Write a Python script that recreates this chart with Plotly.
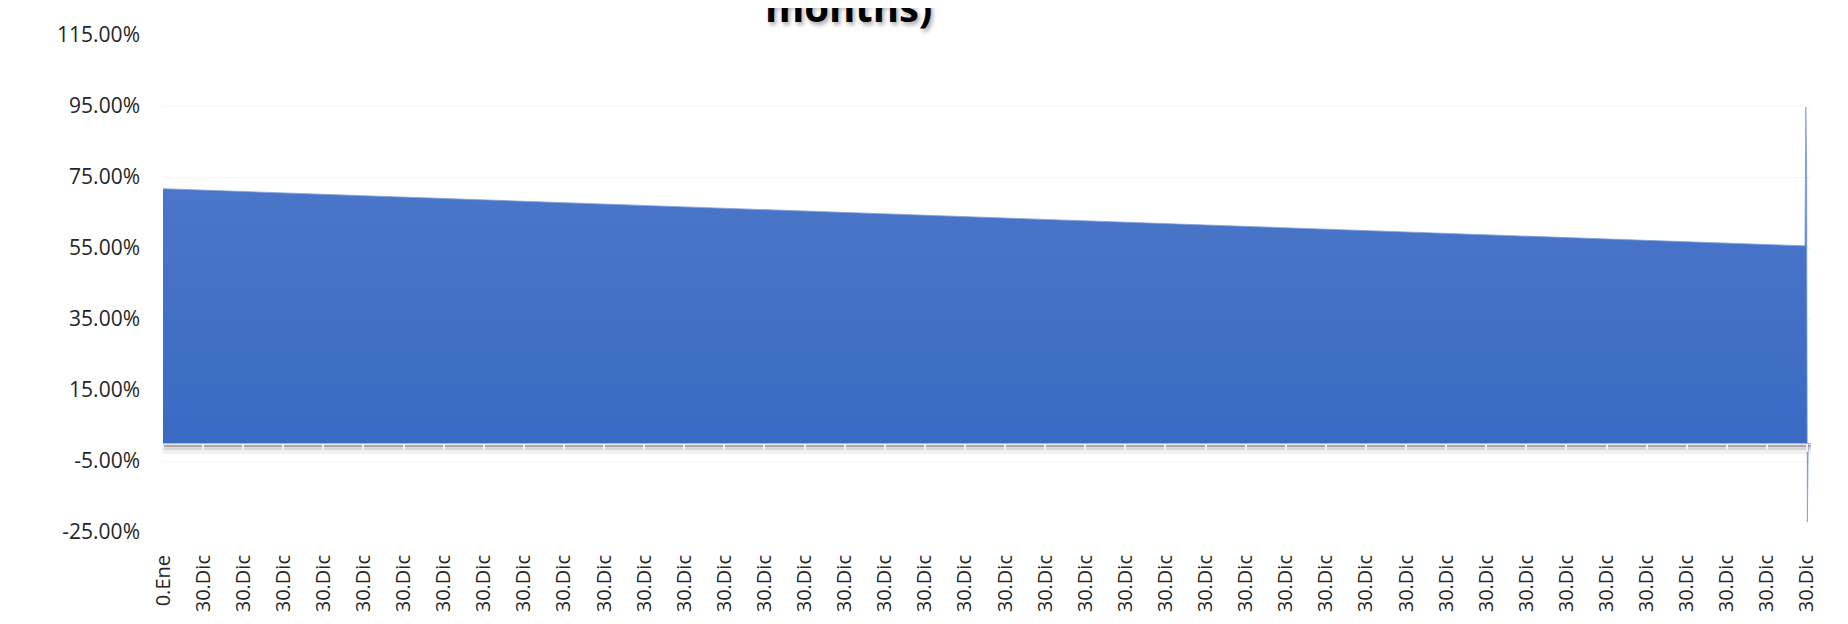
import plotly.graph_objects as go

# Category labels (x axis)
x_labels = ["0.Ene"] + ["30.Dic"] * 41
tick_pos = list(range(len(x_labels)))

# Series: position along the category axis and probability value
period_pos = [0, 40.95, 40.97, 40.99, 41.01, 41.03]
prob = [0.717, 0.556, 0.947, 0.789, -0.222, 0.0]

y_ticks = [-0.25, -0.05, 0.15, 0.35, 0.55, 0.75, 0.95, 1.15]
y_tick_text = [f"{v * 100:.2f}%" for v in y_ticks]

# page body has an 8px default margin -> figure is 1840x616
W, H = 1840, 616
L, R, T, B = 155, 37, 25, 87

fig = go.Figure()
fig.add_trace(go.Scatter(
    x=period_pos, y=prob, mode="lines", fill="tozeroy",
    line=dict(color="#7f9fdc", width=0.8),
    fillgradient=dict(type="vertical",
                      colorscale=[[0, "#3466c0"], [1, "#507acb"]]),
    hoverinfo="skip", showlegend=False,
))
# invisible trace to host the zero-crossing category axis
fig.add_trace(go.Scatter(
    x=tick_pos, y=[0] * len(tick_pos), mode="none", xaxis="x2",
    hoverinfo="skip", showlegend=False,
))

font_family = "Open Sans"
fig.update_layout(
    width=W, height=H,
    margin=dict(l=L, r=R, t=T, b=B),
    paper_bgcolor="white", plot_bgcolor="white",
    font=dict(family=font_family, size=20, color="#262626"),
    xaxis=dict(
        range=[0, 41.1], tickvals=tick_pos, ticktext=x_labels,
        tickangle=-90, showgrid=False, zeroline=False, showline=False,
        ticks="", ticklabelstandoff=18,
        tickfont=dict(size=20, color="#262626"),
    ),
    xaxis2=dict(
        range=[0, 41.1], overlaying="x", anchor="free",
        position=0.25 / 1.40, tickvals=tick_pos, showticklabels=False,
        showline=True, linecolor="#9fb6e3", linewidth=1,
        ticks="outside", ticklen=8, tickcolor="#f0f0f0", tickwidth=2,
        showgrid=False, zeroline=False,
    ),
    yaxis=dict(
        range=[-0.25, 1.15], tickvals=y_ticks, ticktext=y_tick_text,
        showgrid=True, gridcolor="#f5f5f5", gridwidth=1,
        zeroline=False, showline=False, ticks="",
        ticklabelstandoff=22, tickfont=dict(size=21, color="#262626"),
    ),
    shapes=[
        # soft shadow under the category axis
        dict(type="rect", xref="paper", yref="y", x0=0, x1=1,
             y0=-0.004, y1=-0.011, fillcolor="#a8a8a8",
             line=dict(width=0), layer="below"),
        dict(type="rect", xref="paper", yref="y", x0=0, x1=1,
             y0=-0.011, y1=-0.02, fillcolor="#d6d6d6",
             line=dict(width=0), layer="below"),
        dict(type="rect", xref="paper", yref="y", x0=0, x1=1,
             y0=-0.02, y1=-0.03, fillcolor="#f1f1f1",
             line=dict(width=0), layer="below"),
    ],
    annotations=[dict(
        text="<b>months)</b>", xref="paper", yref="paper",
        x=(848 - 8 - L) / (W - L - R), y=1 + 29 / (H - T - B),
        xanchor="center", yanchor="middle", showarrow=False,
        font=dict(family=font_family, size=40, color="#000000",
                  shadow="2px 3px 4px #a8a8a8"),
    )],
)

fig.write_html("out.html")
